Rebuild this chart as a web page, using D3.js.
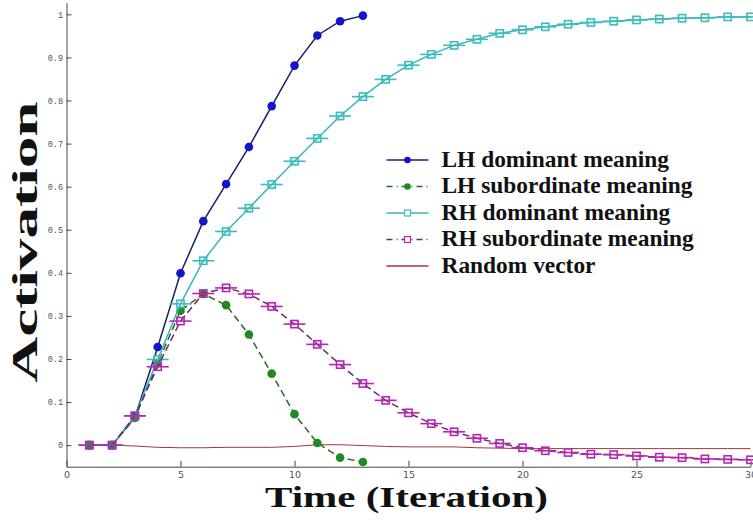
<!DOCTYPE html>
<html lang="en">
<head>
  <meta charset="UTF-8">
  <title>Activation over time</title>
  <script src="https://cdn.jsdelivr.net/npm/d3@7"></script>
  <style>
    body { margin: 0; background: #fff; }
  </style>
</head>
<body>
  <script>
    // iteration numbers and activation values
    const iterations = [1, 2, 3, 4, 5, 6, 7, 8, 9, 10, 11, 12, 13, 14, 15,
      16, 17, 18, 19, 20, 21, 22, 23, 24, 25, 26, 27, 28, 29, 30];
    const lhDominant = [0, 0, 0.065, 0.228, 0.399, 0.52, 0.606, 0.692, 0.787, 0.881, 0.951, 0.984, 0.997];
    const lhSubordinate = [0, 0, 0.063, 0.19, 0.312, 0.351, 0.325, 0.257, 0.166, 0.072, 0.005, -0.029, -0.039];
    const rhDominant = [0, 0, 0.068, 0.199, 0.328, 0.428, 0.496, 0.55, 0.605, 0.659, 0.712, 0.764, 0.809, 0.849, 0.882,
      0.907, 0.928, 0.942, 0.956, 0.964, 0.971, 0.977, 0.981, 0.984, 0.987, 0.989, 0.991, 0.992, 0.994, 0.994];
    const rhSubordinate = [0, 0, 0.068, 0.182, 0.288, 0.352, 0.365, 0.351, 0.322, 0.281, 0.234, 0.187, 0.143, 0.104, 0.075,
      0.05, 0.031, 0.016, 0.004, -0.006, -0.013, -0.017, -0.021, -0.022, -0.025, -0.028, -0.029, -0.032, -0.033, -0.034];
    const randomVector = [0, 0, -0.002, -0.005, -0.006, -0.006, -0.005, -0.005, -0.005, -0.003, 0.001, 0.001, -0.001, -0.003, -0.004,
      -0.004, -0.004, -0.006, -0.007, -0.008, -0.008, -0.008, -0.008, -0.008, -0.008, -0.008, -0.008, -0.008, -0.008, -0.008];

    const xTicks = [0, 5, 10, 15, 20, 25, 30];
    const yTicks = [0, 0.1, 0.2, 0.3, 0.4, 0.5, 0.6, 0.7, 0.8, 0.9, 1];

    const series = [
      { name: "LH dominant meaning", values: lhDominant, line: "#1c1c70", mark: "#1414c8", dash: null, legendDash: null, marker: "circle" },
      { name: "LH subordinate meaning", values: lhSubordinate, line: "#236b23", mark: "#1f8a1f", dash: "7,4", legendDash: "6,4,1,4", marker: "circle" },
      { name: "RH dominant meaning", values: rhDominant, line: "#3ab6b6", mark: "#3cbcbc", dash: null, legendDash: null, marker: "square" },
      { name: "RH subordinate meaning", values: rhSubordinate, line: "#6e2a6e", mark: "#b526b5", dash: "7,4", legendDash: "6,4,1,4", marker: "square" },
      { name: "Random vector", values: randomVector, line: "#a8353a", mark: null, dash: null, legendDash: null, marker: null }
    ];

    const width = 753;
    const height = 521;

    const x = d3.scaleLinear().domain([0, 30]).range([66.5, 750.5]);
    const y = d3.scaleLinear().domain([-0.05, 1.027]).range([466.7, 2.7]);

    const svg = d3.create("svg")
        .attr("width", width)
        .attr("height", height)
        .attr("viewBox", [0, 0, width, height]);

    // axes, ticks point inward
    const xAxis = svg.append("g")
        .attr("transform", `translate(0,${y(-0.05)})`)
        .call(d3.axisBottom(x).tickValues(xTicks).tickSizeInner(-6).tickSizeOuter(0).tickPadding(5));
    xAxis.selectAll("text")
        .attr("font-family", "DejaVu Sans, sans-serif")
        .attr("font-size", 9.5)
        .attr("fill", "#555");

    const yAxis = svg.append("g")
        .attr("transform", `translate(${x(0)},0)`)
        .call(d3.axisLeft(y).tickValues(yTicks).tickFormat(d => d === 0 || d === 1 ? d : d3.format(".1f")(d))
          .tickSizeInner(-5).tickSizeOuter(0).tickPadding(3.5));
    yAxis.selectAll("text")
        .attr("font-family", "Liberation Mono, monospace")
        .attr("font-size", 8.5)
        .attr("fill", "#555");
    svg.selectAll(".domain, .tick line").attr("stroke", "#444");

    const line = values => d3.line()
        .x((d, i) => x(iterations[i]))
        .y(d => y(d))(values);

    // draw random vector first so the others sit on top
    const order = [4, 0, 1, 2, 3];
    order.forEach(k => {
      const s = series[k];
      svg.append("path")
          .attr("d", line(s.values))
          .attr("fill", "none")
          .attr("stroke", s.line)
          .attr("stroke-width", k === 4 ? 1 : 1.5)
          .attr("stroke-dasharray", s.dash);

      if (s.marker === "circle") {
        svg.append("g")
          .selectAll("circle")
          .data(s.values)
          .join("circle")
            .attr("cx", (d, i) => x(iterations[i]))
            .attr("cy", d => y(d))
            .attr("r", 4.3)
            .attr("fill", s.mark);
      } else if (s.marker === "square") {
        const g = svg.append("g")
            .attr("stroke", s.mark)
            .attr("stroke-width", 1.6)
            .attr("fill", "none")
          .selectAll("g")
          .data(s.values)
          .join("g")
            .attr("transform", (d, i) => `translate(${x(iterations[i])},${y(d)})`);
        g.append("rect")
            .attr("x", -3.6).attr("y", -3.6)
            .attr("width", 7.2).attr("height", 7.2);
        g.append("line")
            .attr("x1", -11).attr("x2", 11);
      }
    });

    // legend
    const legend = svg.append("g")
        .selectAll("g")
        .data(series)
        .join("g")
          .attr("transform", (d, i) => `translate(0,${166.5 + i * 26.5})`);

    legend.append("line")
        .attr("x1", 386.5).attr("x2", 428.5)
        .attr("y1", -6.5).attr("y2", -6.5)
        .attr("stroke", d => d.line)
        .attr("stroke-width", 1.5)
        .attr("stroke-dasharray", d => d.legendDash);

    legend.filter(d => d.marker === "circle")
      .append("circle")
        .attr("cx", 407.5).attr("cy", -6.5)
        .attr("r", 3.3)
        .attr("fill", d => d.mark);

    legend.filter(d => d.marker === "square")
      .append("rect")
        .attr("x", 404.5).attr("y", -9.5)
        .attr("width", 6).attr("height", 6)
        .attr("fill", "#fff")
        .attr("stroke", d => d.mark)
        .attr("stroke-width", 1.2);

    legend.append("text")
        .attr("x", 441.5)
        .attr("font-family", "Liberation Serif, Times New Roman, serif")
        .attr("font-weight", "bold")
        .attr("font-size", 23.4)
        .attr("fill", "#111")
        .text(d => d.name);

    // axis titles, stretched wide like in the figure
    svg.append("text")
        .attr("transform", "translate(37,242) rotate(-90)")
        .attr("text-anchor", "middle")
        .attr("font-family", "Liberation Serif, Times New Roman, serif")
        .attr("font-weight", "bold")
        .attr("font-size", 35)
        .attr("textLength", 281)
        .attr("lengthAdjust", "spacingAndGlyphs")
        .attr("fill", "#111")
        .text("Activation");

    svg.append("text")
        .attr("x", 265)
        .attr("y", 507)
        .attr("font-family", "Liberation Serif, Times New Roman, serif")
        .attr("font-weight", "bold")
        .attr("font-size", 29.5)
        .attr("textLength", 283)
        .attr("lengthAdjust", "spacingAndGlyphs")
        .attr("fill", "#111")
        .text("Time (Iteration)");

    document.body.appendChild(svg.node());
  </script>
</body>
</html>
